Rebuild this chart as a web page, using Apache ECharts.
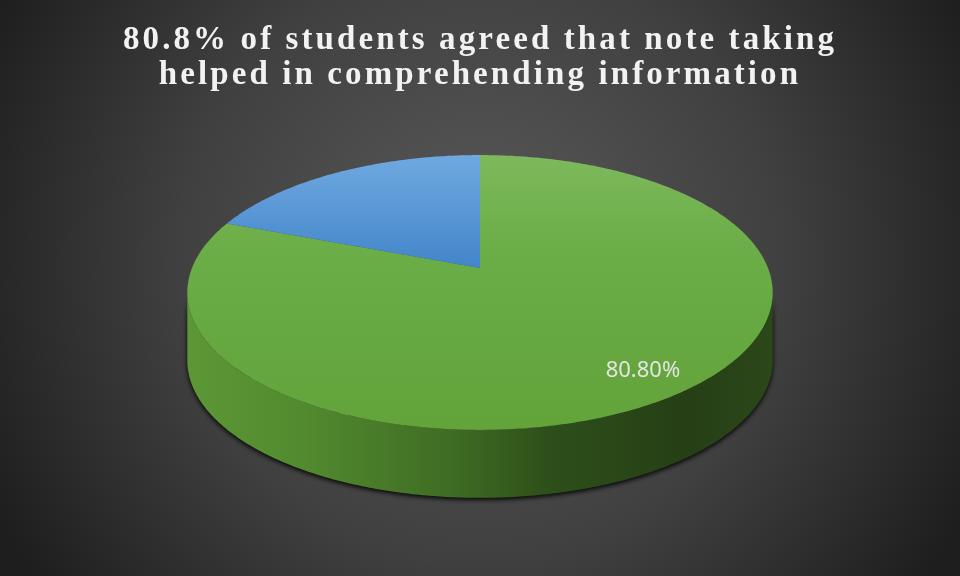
<!DOCTYPE html>
<html>
<head>
<meta charset="utf-8">
<script src="https://cdn.jsdelivr.net/npm/echarts@6/dist/echarts.min.js"></script>
<style>
html, body { margin: 0; padding: 0; background: #2b2b2b; }
#wrap { position: relative; width: 960px; height: 576px; }
#main, #head { position: absolute; left: 0; top: 0; width: 960px; height: 576px; }
#head { letter-spacing: 3.1px; pointer-events: none; }
</style>
</head>
<body>
<div id="wrap"><div id="main"></div><div id="head"></div></div>
<script>
var titleLines = ['80.8% of students agreed that note taking', 'helped in comprehending information'];
var categories = ['Agreed', 'Did not agree'];
var shares = [80.8, 19.2];
var labelShown = [true, false];

var total = shares.reduce(function (a, b) { return a + b; }, 0);
var cum = [0];
shares.forEach(function (v) { cum.push(cum[cum.length - 1] + v); });

// colours of the faces
var topFill = [
  new echarts.graphic.LinearGradient(0, 155, 0, 430, [
    { offset: 0, color: '#7db95c' }, { offset: 0.35, color: '#6bad46' }, { offset: 1, color: '#62a43a' }
  ], true),
  new echarts.graphic.LinearGradient(0, 155, 0, 268, [
    { offset: 0, color: '#6fa9e0' }, { offset: 1, color: '#4385ca' }
  ], true)
];
var sideFill = new echarts.graphic.LinearGradient(188, 0, 773, 0, [
  { offset: 0, color: '#5d9735' }, { offset: 0.2, color: '#528a2f' },
  { offset: 0.45, color: '#3f6c23' }, { offset: 0.62, color: '#2d4f1a' },
  { offset: 0.85, color: '#263f16' }, { offset: 1, color: '#2b4819' }
], true);

function renderSlice(params, api) {
  var W = api.getWidth(), H = api.getHeight();
  var cx = W * 0.5, cy = H * 0.4653, A = W * 0.3, B = H * 0.231, K = 0.178, depth = H * 0.118;
  function pt(r, t, dy) {
    var w = 1 - K * r * Math.sin(t);
    return [cx + A * r * Math.cos(t) / w, cy + B * r * Math.sin(t) / w + dy];
  }
  function arc(t0, t1, dy) {
    var n = Math.max(2, Math.ceil(Math.abs(t1 - t0) / 0.01));
    var out = [];
    for (var k = 0; k <= n; k++) out.push(pt(1, t0 + (t1 - t0) * k / n, dy));
    return out;
  }
  var i = params.dataIndex;
  var t0 = cum[i] / total * Math.PI * 2 - Math.PI / 2;
  var t1 = cum[i + 1] / total * Math.PI * 2 - Math.PI / 2;
  var children = [];

  // visible front wall
  var ts = Math.asin(K);
  [-2 * Math.PI, 0, 2 * Math.PI].forEach(function (s) {
    var a = Math.max(t0 + s, ts), b = Math.min(t1 + s, Math.PI - ts);
    if (b > a) {
      var pts = arc(a, b, 0).concat(arc(b, a, depth));
      children.push({
        type: 'polygon', z2: 1,
        shape: { points: pts },
        style: { fill: sideFill, shadowBlur: 5, shadowOffsetY: 2, shadowColor: 'rgba(0,0,0,0.95)' }
      });
    }
  });

  children.push({
    type: 'polygon', z2: 5,
    shape: { points: [pt(0, 0, 0)].concat(arc(t0, t1, 0)) },
    style: { fill: topFill[i] }
  });

  if (labelShown[i]) {
    var tm = (t0 + t1) / 2;
    var p = pt(0.87, tm, -7);
    children.push({
      type: 'text', z2: 10, x: p[0], y: p[1],
      style: {
        text: api.value(0).toFixed(2) + '%',
        fill: '#e4e4e4', font: '22px "Noto Sans"',
        align: 'center', verticalAlign: 'middle'
      }
    });
  }
  return { type: 'group', children: children };
}

var chart = echarts.init(document.getElementById('main'));
chart.setOption({
  backgroundColor: new echarts.graphic.RadialGradient(0.5, 0.45, 0.95, [
    { offset: 0, color: '#5a5a5a' }, { offset: 0.55, color: '#404040' }, { offset: 1, color: '#1e1e1e' }
  ]),
  animation: false,
  series: [{
    type: 'custom',
    coordinateSystem: 'none',
    renderItem: renderSlice,
    data: shares.map(function (v, i) { return { name: categories[i], value: v }; })
  }]
});

var head = echarts.init(document.getElementById('head'), null, { renderer: 'svg' });
head.setOption({
  animation: false,
  title: {
    text: titleLines.join('\n'),
    left: 'center',
    top: 15,
    textStyle: {
      fontFamily: 'Liberation Serif',
      fontWeight: 'bold',
      fontSize: 33,
      lineHeight: 35,
      color: '#f2f2f2'
    }
  }
});
</script>
</body>
</html>
